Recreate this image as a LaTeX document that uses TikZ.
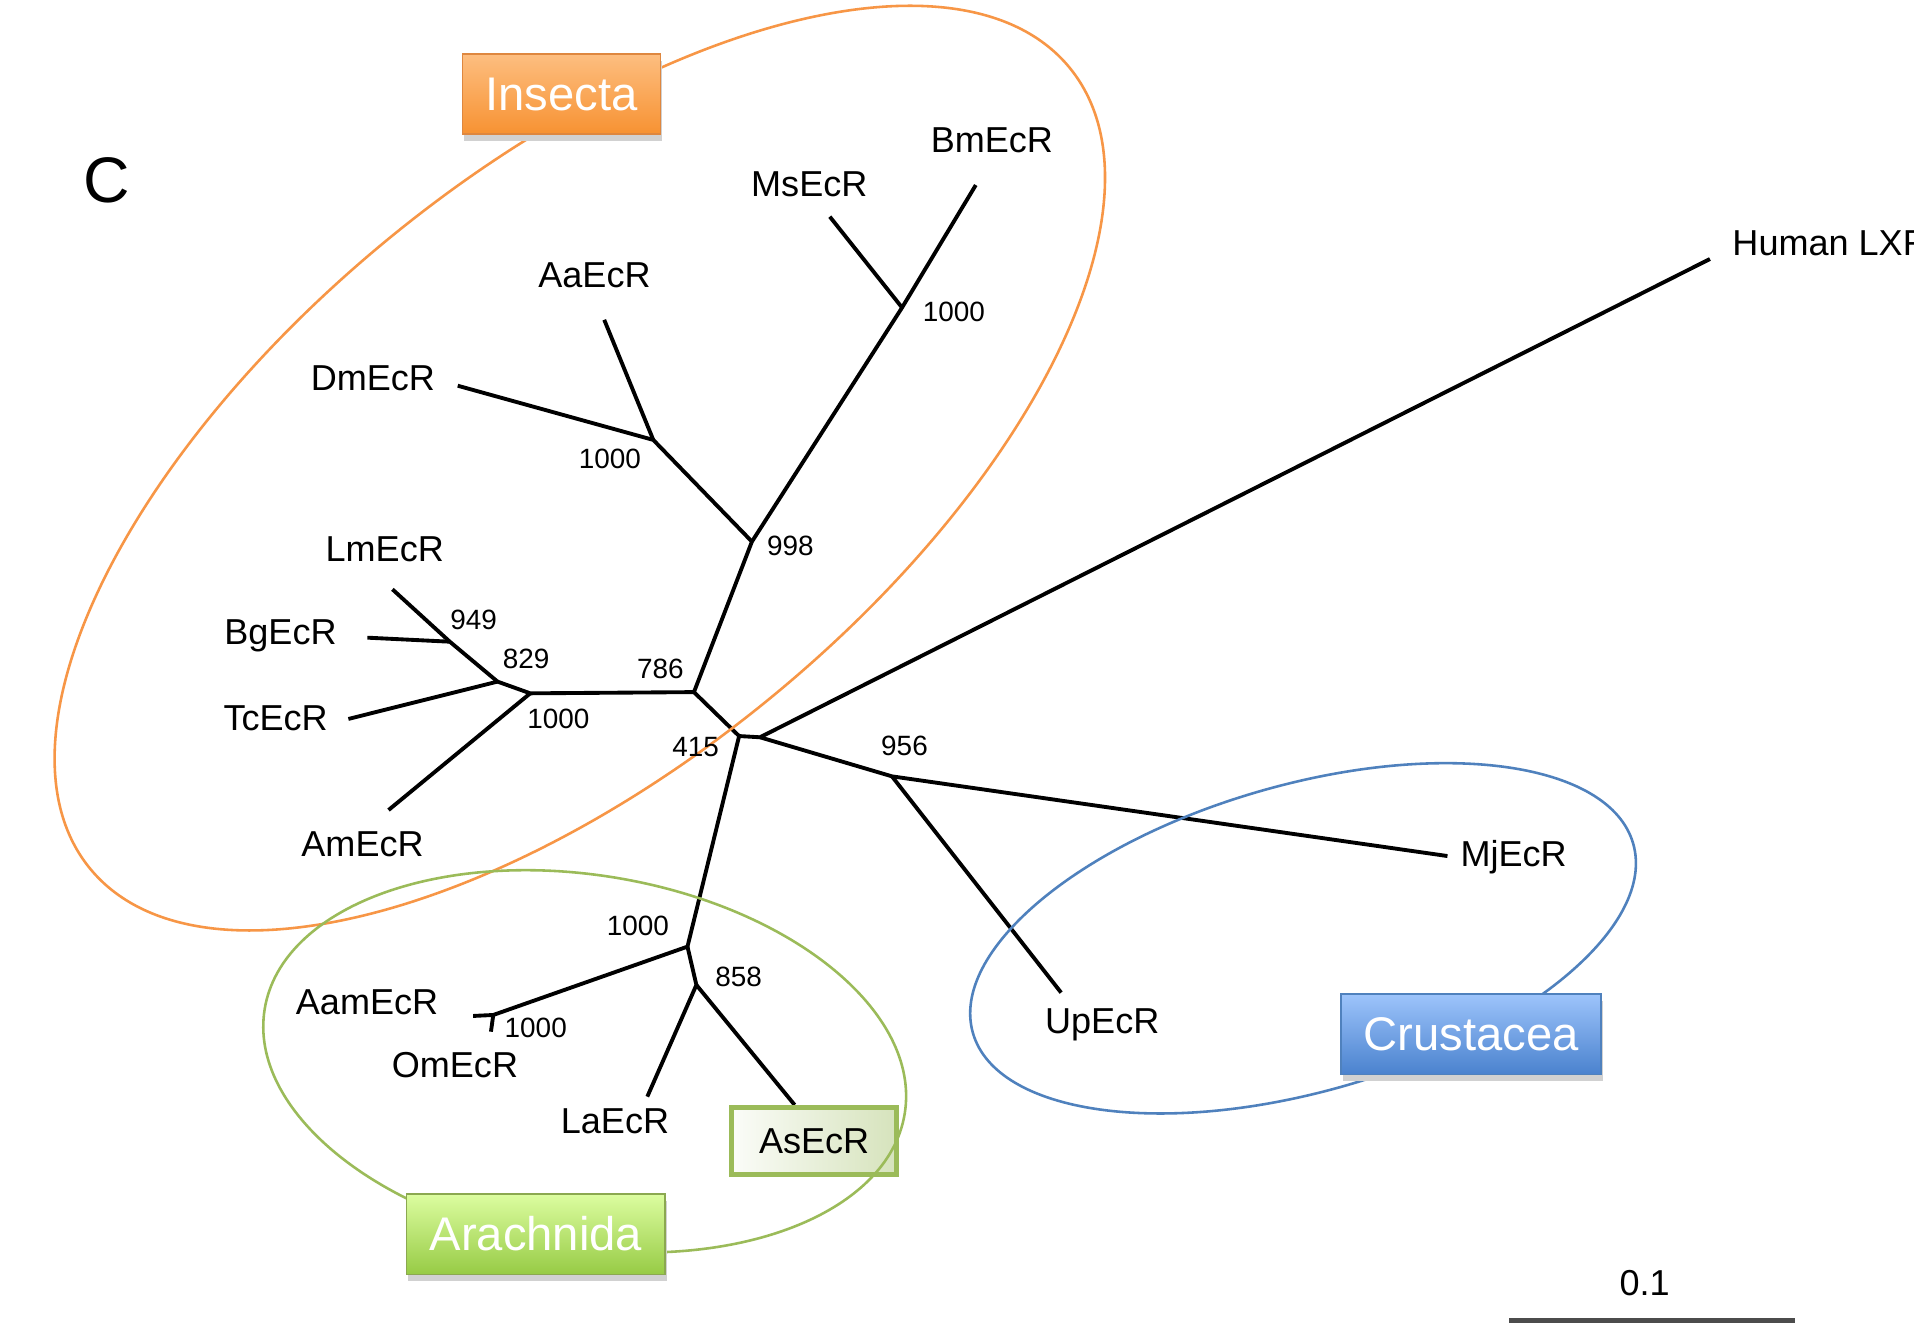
\documentclass[tikz,border=0pt]{standalone}
\usepackage{fontspec}
\setmainfont{Liberation Sans}
\usepackage{tikz}
\usetikzlibrary{
  shadows
}
\definecolor{insectorange}{RGB}{247,150,70}
\definecolor{insecttop}{RGB}{253,190,128}
\definecolor{insectbot}{RGB}{247,146,50}
\definecolor{arachgreen}{RGB}{155,187,89}
\definecolor{arachtop}{RGB}{220,253,160}
\definecolor{arachbot}{RGB}{151,203,69}
\definecolor{crustblue}{RGB}{79,129,189}
\definecolor{crusttop}{RGB}{157,196,251}
\definecolor{crustbot}{RGB}{74,130,206}
\definecolor{asfill}{RGB}{214,227,188}

\begin{document}
\begin{tikzpicture}[x=0.01cm, y=-0.01cm,
  branch/.style={line width=0.9pt},
  taxon/.style={anchor=base, inner sep=0pt, font=\fontsize{8.4}{10}\selectfont},
  boot/.style={anchor=base, inner sep=0pt, font=\fontsize{6.5}{8}\selectfont},
  cladering/.style={line width=0.6pt},
  cladetag/.style={draw=#1, line width=0.4pt, text=white, inner sep=0pt,
    minimum height=0.66cm, font=\fontsize{11}{13}\selectfont,
    drop shadow={shadow xshift=0.4pt, shadow yshift=-1.6pt, fill=black!18, opacity=1}}
]
  \useasboundingbox (0,0) rectangle (1568,1091);
  \fill[white] (0,0) rectangle (1568,1091);
  \clip (0,0) rectangle (1568,1091);

  % inner nodes of the tree
  \coordinate (n415) at (605.5,603);
  \coordinate (nLXR) at (622.6,604);
  \coordinate (n956) at (730.7,636);
  \coordinate (n786) at (568.5,567);
  \coordinate (n998) at (616,443.7);
  \coordinate (nAaDm) at (535.2,360.4);
  \coordinate (nMsBm) at (739,252);
  \coordinate (nLm) at (434.4,568);
  \coordinate (n829) at (407.6,558.4);
  \coordinate (n949) at (368.5,525.7);
  \coordinate (nArach) at (563.2,775.5);
  \coordinate (n858) at (570.5,806.9);
  \coordinate (nAamOm) at (404.1,831.5);

  % tips
  \coordinate (tBm) at (799.4,151.6);
  \coordinate (tMs) at (679.8,177.5);
  \coordinate (tAa) at (495,262);
  \coordinate (tDm) at (375,316);
  \coordinate (tLm) at (321.5,482.8);
  \coordinate (tBg) at (301,522.4);
  \coordinate (tTc) at (285.4,589);
  \coordinate (tAm) at (318.3,663.6);
  \coordinate (tLXR) at (1400.8,212.2);
  \coordinate (tMj) at (1185.8,701.3);
  \coordinate (tUp) at (869.3,813.2);
  \coordinate (tAam) at (387.6,832.3);
  \coordinate (tOm) at (402.2,845.2);
  \coordinate (tLa) at (530.3,898.4);
  \coordinate (tAs) at (651,905.2);

  % branches
  \draw[branch] (n415) -- (nLXR) -- (tLXR);
  \draw[branch] (nLXR) -- (n956) -- (tMj);
  \draw[branch] (n956) -- (tUp);
  \draw[branch] (n415) -- (n786) -- (n998) -- (nMsBm) -- (tBm);
  \draw[branch] (nMsBm) -- (tMs);
  \draw[branch] (n998) -- (nAaDm) -- (tDm);
  \draw[branch] (nAaDm) -- (tAa);
  \draw[branch] (n786) -- (nLm) -- (n829) -- (n949) -- (tLm);
  \draw[branch] (n949) -- (tBg);
  \draw[branch] (n829) -- (tTc);
  \draw[branch] (nLm) -- (tAm);
  \draw[branch] (n415) -- (nArach) -- (nAamOm) -- (tAam);
  \draw[branch] (nAamOm) -- (tOm);
  \draw[branch] (nArach) -- (n858) -- (tLa);
  \draw[branch] (n858) -- (tAs);

  \node[draw=arachgreen, line width=1.2pt, left color=white!90!asfill, right color=asfill,
    minimum width=1.35cm, minimum height=0.55cm, inner sep=0pt,
    font=\fontsize{8.4}{10}\selectfont] (AsEcR) at (667,934.7) {AsEcR};

  % clades
  \draw[cladering, insectorange, rotate around={39.25:(475,383.5)}]
    (475,383.5) ellipse [x radius=5.18cm, y radius=2.445cm];
  \draw[cladering, arachgreen, rotate around={-9.3:(479,869.5)}]
    (479,869.5) ellipse [x radius=2.655cm, y radius=1.525cm];
  \draw[cladering, crustblue, rotate around={16:(1067.5,768.7)}]
    (1067.5,768.7) ellipse [x radius=2.812cm, y radius=1.255cm];

  \node[cladetag=insectorange!90!black, top color=insecttop, bottom color=insectbot,
    minimum width=1.62cm] (Insecta) at (460,77) {Insecta};
  \node[cladetag=arachgreen!90!black, top color=arachtop, bottom color=arachbot,
    minimum width=2.12cm] (Arachnida) at (439,1011) {Arachnida};
  \node[cladetag=crustblue, top color=crusttop, bottom color=crustbot,
    minimum width=2.13cm] (Crustacea) at (1205.3,847.3) {Crustacea};

  % leaf names
  \node[taxon] (BmEcR) at (812.6,124.8) {BmEcR};
  \node[taxon] (MsEcR) at (663,161.1) {MsEcR};
  \node[taxon] (AaEcR) at (487,235.4) {AaEcR};
  \node[taxon] (DmEcR) at (305.5,320) {DmEcR};
  \node[taxon] (LmEcR) at (315.2,460) {LmEcR};
  \node[taxon] (BgEcR) at (229.8,527.6) {BgEcR};
  \node[taxon] (TcEcR) at (225.8,598.6) {TcEcR};
  \node[taxon] (AmEcR) at (297,702) {AmEcR};
  \node[taxon, anchor=base west] (HumanLXR) at (1418.6,209.7) {Human LXR};
  \node[taxon] (MjEcR) at (1240,710) {MjEcR};
  \node[taxon] (UpEcR) at (903,847) {UpEcR};
  \node[taxon] (AamEcR) at (300.7,831.5) {AamEcR};
  \node[taxon] (OmEcR) at (372.7,882.8) {OmEcR};
  \node[taxon] (LaEcR) at (503.8,928.4) {LaEcR};

  % bootstrap values
  \node[boot] (bMsBm) at (781.4,263.5) {1000};
  \node[boot] (bAaDm) at (499.7,384.2) {1000};
  \node[boot] (b998) at (647.5,454.7) {998};
  \node[boot] (b949) at (388,516) {949};
  \node[boot] (b829) at (431,548) {829};
  \node[boot] (b786) at (541,556) {786};
  \node[boot] (bLm) at (457.5,596.5) {1000};
  \node[boot] (b415) at (569.8,620) {415};
  \node[boot] (b956) at (741,619.3) {956};
  \node[boot] (bArach) at (522.6,766) {1000};
  \node[boot] (b858) at (605.2,808) {858};
  \node[boot] (bAamOm) at (438.9,850) {1000};

  \node[anchor=base, inner sep=0pt, font=\fontsize{15}{17}\selectfont] (panel) at (87.3,166) {C};

  % scale bar
  \coordinate (sbL) at (1236.6,1082);
  \coordinate (sbR) at (1470.7,1082);
  \draw[line width=1.2pt, black!70] (sbL) -- (sbR);
  \node[taxon] (sbText) at (1347.3,1061.4) {0.1};
\end{tikzpicture}
\end{document}
